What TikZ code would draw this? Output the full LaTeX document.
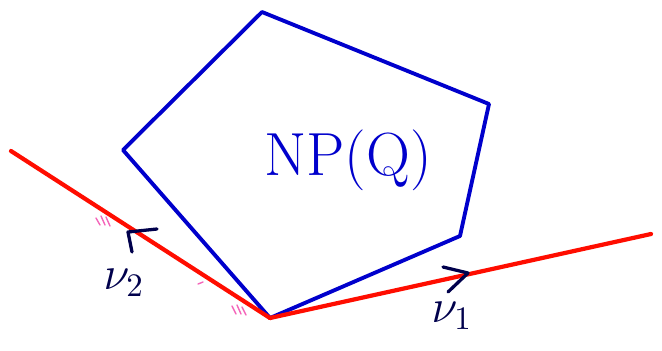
\documentclass[tikz,border=0pt]{standalone}
\begin{document}
\begin{tikzpicture}[x=0.03cm,y=-0.03cm,line cap=round,line join=round,
  poly/.style={draw=blue!80!black,line width=3.3pt},
  hyper/.style={draw=red!90!orange,line width=3.6pt},
  hatch/.style={draw=magenta!60,line width=1.2pt},
  vecmark/.style={draw=blue!30!black,line width=2.8pt},
  lbl/.style={text=blue!30!black,inner sep=0pt,font=\Large,scale=2.8}]
 \useasboundingbox (0,0) rectangle (662,350);
 \coordinate (top) at (262,12);
 \coordinate (rtop) at (489,104);
 \coordinate (rbot) at (460,236);
 \coordinate (bot) at (270,318);
 \coordinate (lft) at (123,150);
 \coordinate (a2) at (11,151);
 \coordinate (a1) at (651,234);
 \draw[poly] (top) -- (rtop) -- (rbot) -- (bot) -- (lft) -- cycle;
 \draw[hyper] (a2) -- (bot);
 \draw[hyper] (bot) -- (a1);
 \draw[hatch] (96,218) -- (100,225) (101,216) -- (105,225) (106,217) -- (110,226);
 \draw[hatch] (232,306) -- (236,314) (237,305) -- (241,314) (242,307) -- (246,315);
 \draw[hatch] (198,284) -- (203,282);
 \node[text=blue!80!black,inner sep=0pt,font=\fontsize{52}{56}\selectfont] (np) at (348,160) {NP(Q)};
 \draw[vecmark] (132,252) -- (128,232) -- (157,229);
 \node[lbl] (nu2) at (124,283) {$\nu_2$};
 \draw[vecmark] (443,267) -- (468,273) -- (448,292);
 \node[lbl] (nu1) at (452,316) {$\nu_1$};
\end{tikzpicture}
\end{document}
